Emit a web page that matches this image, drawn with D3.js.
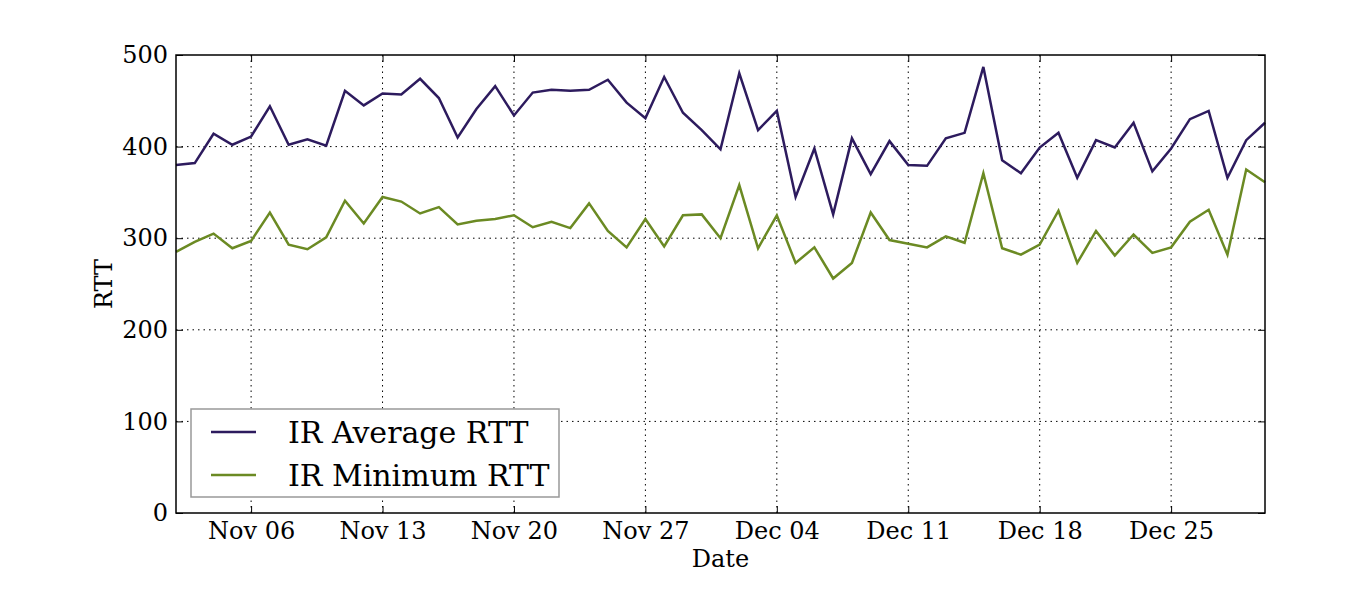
<!DOCTYPE html>
<html>
<head>
<meta charset="utf-8">
<script src="https://cdn.jsdelivr.net/npm/d3@7"></script>
<style>
  body { margin: 0; background: #fff; }
  text { font-family: "DejaVu Serif", serif; fill: #000; }
</style>
</head>
<body>
<div id="canvas"></div>
<script>
// daily values, Nov 02 .. Dec 30
const startDate = "2012-11-02";
const avgRtt = [
  380, 382, 414, 402, 411, 444, 402, 408, 401, 461, 445, 458, 457, 474, 453,
  410, 441, 466, 434, 459, 462, 461, 462, 473, 448, 431, 476, 437, 418,
  397, 480, 418, 439, 345, 398, 326, 409, 370, 406, 380, 379, 409, 415, 487,
  385, 371, 399, 415, 366, 407, 399, 426, 373, 398, 430, 439, 366, 407, 426
];
const minRtt = [
  285, 296, 305, 289, 297, 328, 293, 288, 301, 341, 316, 345, 340, 327, 334,
  315, 319, 321, 325, 312, 318, 311, 338, 308, 290, 321, 291, 325, 326,
  300, 358, 289, 325, 273, 290, 256, 273, 328, 298, 294, 290, 302, 295, 371,
  289, 282, 293, 330, 273, 308, 281, 304, 284, 290, 318, 331, 282, 375, 361
];
const seriesNames = ["IR Average RTT", "IR Minimum RTT"];
const seriesColors = ["#2d1b5e", "#6b8a23"];
const xTickDates = ["2012-11-06", "2012-11-13", "2012-11-20", "2012-11-27",
                    "2012-12-04", "2012-12-11", "2012-12-18", "2012-12-25"];
const yTicks = [0, 100, 200, 300, 400, 500];

const parse = d3.utcParse("%Y-%m-%d");
const t0 = parse(startDate);
const dates = avgRtt.map((_, i) => d3.utcDay.offset(t0, i));

const width = 1350;
const height = 600;
const margin = { top: 55, left: 176, bottom: 87, right: 85 };
const iwidth = width - margin.left - margin.right;
const iheight = height - margin.top - margin.bottom;

const svg = d3.select("#canvas").append("svg")
  .attr("width", width)
  .attr("height", height);

const g = svg.append("g")
  .attr("transform", `translate(${margin.left},${margin.top})`);

const x = d3.scaleUtc()
  .domain([dates[0], dates[dates.length - 1]])
  .range([0, iwidth]);

const y = d3.scaleLinear()
  .domain([0, 500])
  .range([iheight, 0]);

// grid
g.append("g").selectAll("line")
  .data(xTickDates.map(parse))
  .join("line")
  .attr("x1", (d) => x(d)).attr("x2", (d) => x(d))
  .attr("y1", 0).attr("y2", iheight)
  .attr("stroke", "#000").attr("stroke-width", 1)
  .attr("stroke-dasharray", "1.5,4");

g.append("g").selectAll("line")
  .data(yTicks.slice(1, -1))
  .join("line")
  .attr("x1", 0).attr("x2", iwidth)
  .attr("y1", (d) => y(d)).attr("y2", (d) => y(d))
  .attr("stroke", "#000").attr("stroke-width", 1)
  .attr("stroke-dasharray", "1.5,4");

// lines
const line = d3.line()
  .x((d, i) => x(dates[i]))
  .y((d) => y(d));

[avgRtt, minRtt].forEach((s, k) => {
  g.append("path")
    .datum(s)
    .attr("fill", "none")
    .attr("stroke", seriesColors[k])
    .attr("stroke-width", 2.5)
    .attr("stroke-linejoin", "miter")
    .attr("d", line);
});

// axes, ticks pointing inward
const xAxis = g.append("g")
  .attr("transform", `translate(0,${iheight})`)
  .call(d3.axisBottom(x).tickValues(xTickDates.map(parse))
    .tickFormat(d3.utcFormat("%b %d")).tickSizeInner(-7).tickSizeOuter(0).tickPadding(9));
xAxis.select(".domain").remove();
xAxis.selectAll("text").style("font-size", "24px").attr("dy", "0.71em");

g.append("g")
  .call(d3.axisTop(x).tickValues(xTickDates.map(parse))
    .tickFormat("").tickSizeInner(-7).tickSizeOuter(0))
  .select(".domain").remove();

const yAxis = g.append("g")
  .call(d3.axisLeft(y).tickValues(yTicks).tickSizeInner(-7).tickSizeOuter(0).tickPadding(8));
yAxis.select(".domain").remove();
yAxis.selectAll("text").style("font-size", "24px");

g.append("g")
  .attr("transform", `translate(${iwidth},0)`)
  .call(d3.axisRight(y).tickValues(yTicks).tickFormat("").tickSizeInner(-7).tickSizeOuter(0))
  .select(".domain").remove();

g.selectAll(".tick line").attr("stroke", "#000").attr("stroke-width", 1);

// frame
g.append("rect")
  .attr("width", iwidth).attr("height", iheight)
  .attr("fill", "none").attr("stroke", "#000").attr("stroke-width", 1.5);

// axis labels
g.append("text")
  .attr("x", iwidth / 2).attr("y", iheight + 54)
  .attr("text-anchor", "middle")
  .style("font-size", "24px")
  .text("Date");

g.append("text")
  .attr("transform", `translate(-64,${iheight / 2}) rotate(-90)`)
  .attr("text-anchor", "middle")
  .style("font-size", "24px")
  .text("RTT");

// legend
const legend = g.append("g").attr("transform", "translate(15,354)");
legend.append("rect")
  .attr("width", 368).attr("height", 88)
  .attr("fill", "#fff").attr("stroke", "#999").attr("stroke-width", 1.5);
seriesNames.forEach((name, k) => {
  const ly = 23 + k * 43;
  legend.append("line")
    .attr("x1", 20).attr("x2", 65).attr("y1", ly).attr("y2", ly)
    .attr("stroke", seriesColors[k]).attr("stroke-width", 2.5);
  legend.append("text")
    .attr("x", 97).attr("y", ly).attr("dy", "0.35em")
    .style("font-size", "30px")
    .text(name);
});
</script>
</body>
</html>
